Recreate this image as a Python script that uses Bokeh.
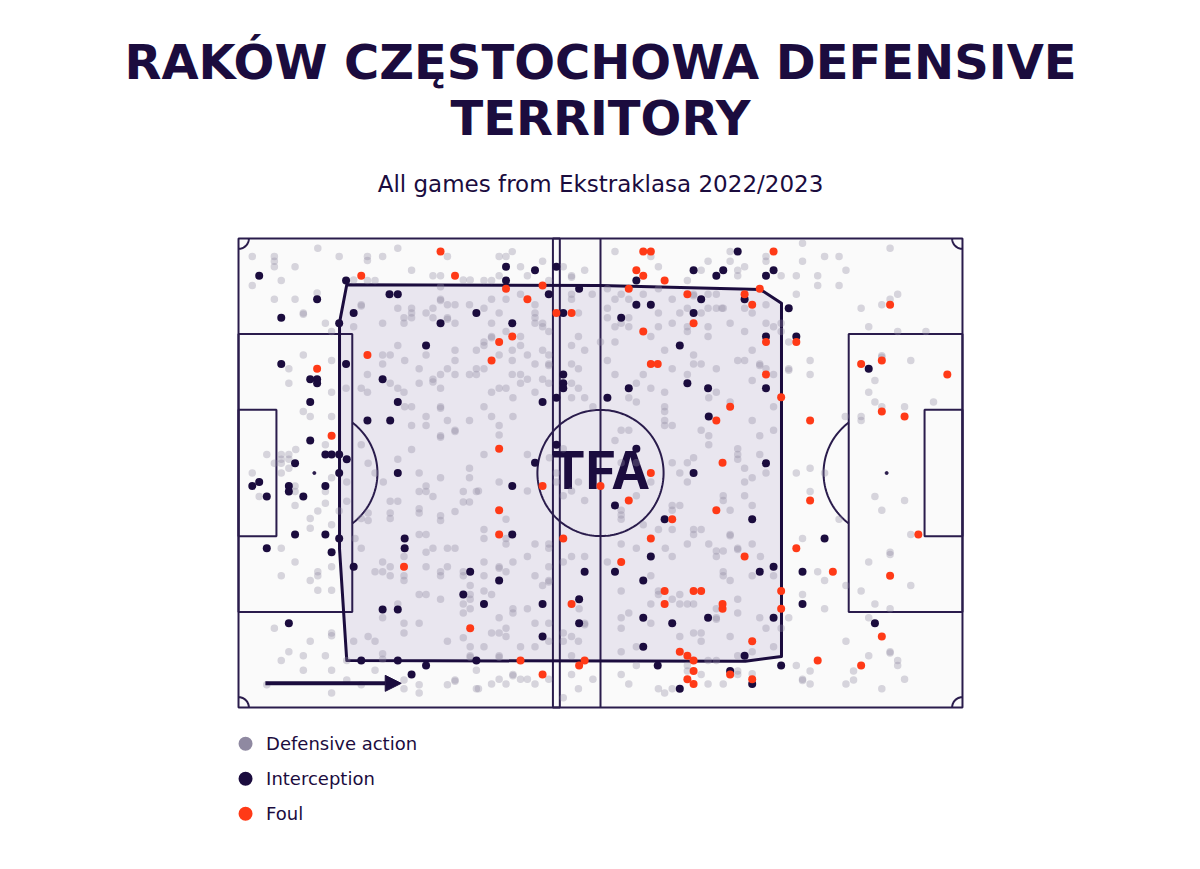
import numpy as np
from bokeh.plotting import figure
from bokeh.models import Range1d, Arrow, NormalHead
from bokeh.embed import file_html
from bokeh.resources import INLINE
from bokeh.core.properties import value

# ---------------- texts ----------------
title_lines = ["RAKÓW CZĘSTOCHOWA DEFENSIVE", "TERRITORY"]
subtitle = "All games from Ekstraklasa 2022/2023"
legend_labels = ["Defensive action", "Interception", "Foul"]

# ---------------- data (metres, pitch 105 x 68, y measured from top touchline) ----------------
defensive_actions = [
    (11.5,1.4),(23.1,1.4),(2.0,2.6),(5.2,2.6),(5.2,3.3),(5.2,4.1),(14.6,2.6),(18.7,2.6),(18.7,3.2),(20.9,2.6),
    (30.3,2.6),(8.2,4.1),(25.1,4.6),(6.2,6.1),(2.0,6.8),(28.2,5.4),(29.3,5.4),(16.7,6.0),(18.7,6.1),(19.8,6.1),
    (32.6,6.0),(33.6,6.0),(29.3,7.0),(29.3,8.8),(29.3,9.0),(30.3,9.6),(31.4,9.6),(33.5,9.6),(28.2,10.1),(5.2,8.8),
    (8.2,8.8),(11.4,7.9),(17.8,9.6),(17.8,9.8),(23.1,10.1),(25.1,10.1),(25.1,10.8),(25.1,11.5),(24.0,11.5),(9.4,10.8),
    (9.4,11.0),(27.2,10.8),(28.2,11.5),(30.3,11.5),(30.3,11.7),(31.4,12.3),(20.9,12.3),(24.0,12.3),(12.6,12.3),(16.7,12.8),
    (13.5,13.5),(23.1,15.5),(31.4,16.2),(34.5,16.2),(9.4,16.9),(20.9,16.9),(22.0,16.9),(13.5,17.7),(24.1,17.7),(27.2,16.9),
    (31.4,17.7),(7.3,18.9),(20.9,18.2),(26.2,18.9),(30.3,18.9),(29.3,19.7),(28.2,20.4),(28.2,20.8),(31.4,19.7),(33.5,19.7),
    (34.5,18.9),(34.5,19.7),(18.7,19.7),(7.3,21.0),(22.0,21.0),(17.8,21.7),(26.2,21.0),(29.3,21.7),(23.1,21.7),(13.5,22.3),
    (18.7,22.3),(15.6,21.7),(24.0,22.3),
    (39.7,1.9),(37.8,2.6),(38.8,2.6),(40.9,4.1),(44.1,3.3),(47.1,4.1),(50.2,4.6),(54.6,1.9),(59.8,2.6),(60.9,4.1),
    (68.1,3.3),(67.1,4.6),(65.1,6.1),(36.7,6.1),(35.6,6.1),(37.8,5.4),(41.9,5.4),(45.0,6.1),(48.3,5.4),(48.3,5.6),
    (48.3,8.1),(48.3,8.8),(51.3,8.1),(36.7,8.8),(38.8,8.8),(40.9,8.1),(43.0,9.6),(43.0,10.8),(43.0,11.5),(37.8,10.8),
    (35.6,10.1),(53.5,7.3),(53.5,10.1),(54.6,8.8),(55.5,8.1),(56.6,8.8),(58.7,8.1),(60.9,7.3),(62.9,8.8),(64.0,10.8),
    (65.1,10.1),(66.0,8.1),(66.0,8.3),(68.1,8.1),(69.3,8.1),(68.1,10.1),(69.3,10.1),(70.1,10.1),(67.1,10.8),(68.1,12.8),
    (65.1,12.8),(65.1,13.5),(60.9,10.8),(62.9,12.3),(60.9,12.8),(59.8,14.2),(55.5,12.3),(56.6,11.5),(56.6,12.8),(54.6,12.8),
    (53.5,11.5),(54.6,15.0),(52.5,15.0),(49.3,10.8),(49.3,14.2),(50.2,16.2),(48.3,15.5),(48.3,18.2),(49.3,18.9),(43.0,12.3),
    (44.1,12.3),(44.1,12.8),(45.0,13.5),(44.1,16.2),(45.0,16.9),(45.0,18.2),(45.0,18.4),(43.0,18.2),(41.9,16.9),(40.9,14.2),
    (40.9,15.5),(39.7,16.2),(38.8,13.5),(36.7,12.3),(36.7,14.2),(36.7,14.4),(35.6,15.0),(35.6,15.5),(37.8,16.9),(39.7,17.7),
    (35.6,18.9),(39.7,19.7),(40.9,19.7),(41.9,20.4),(40.9,21.0),(44.1,20.4),(45.0,21.0),(37.8,21.7),(38.8,21.7),(36.7,22.3),
    (43.0,22.3),(48.3,21.0),(49.3,21.7),(53.5,17.7),(54.6,19.7),(57.7,21.0),(58.7,19.7),(62.9,18.9),(65.1,19.7),(66.0,18.2),
    (67.1,18.2),(66.0,16.9),(69.3,18.9),(68.1,14.2),(61.8,16.2),(59.8,21.7),(61.8,22.3),(69.3,22.3),
    (81.8,0.7),(94.5,1.4),(71.3,1.9),(76.5,2.6),(76.5,3.3),(71.3,3.3),(81.8,3.3),(85.0,2.6),(87.1,2.6),(72.4,4.6),
    (72.4,5.4),(73.4,4.1),(78.7,5.4),(80.9,5.4),(84.0,5.4),(88.1,4.6),(84.0,6.8),(87.1,6.8),(80.9,8.1),(95.6,8.1),
    (94.5,8.8),(93.3,9.6),(90.3,10.1),(70.3,10.1),(73.4,10.1),(76.5,9.6),(74.5,10.8),(71.3,12.3),(76.5,12.3),(77.6,12.8),
    (78.7,12.3),(78.7,13.5),(73.4,13.5),(91.4,12.8),(95.6,13.5),(99.7,13.5),(79.8,15.0),(74.5,16.2),(72.4,17.7),(73.4,17.7),
    (75.6,18.2),(75.6,18.4),(76.5,18.9),(77.6,19.7),(79.8,18.9),(79.8,19.1),(82.9,17.7),(82.9,19.7),(74.5,20.6),(93.3,17.0),
    (93.3,17.2),(97.5,17.7),(92.3,20.6),(91.4,22.3),
    (9.4,25.1),(10.4,25.8),(13.5,25.8),(24.1,24.4),(25.1,24.4),(29.3,24.4),(29.3,24.6),(27.2,25.8),(27.2,27.1),(30.3,26.4),
    (33.5,26.4),(31.4,27.8),(31.4,28.0),(29.3,28.6),(29.3,28.8),(25.1,27.1),(17.8,29.9),(25.1,30.6),(12.6,29.9),(8.3,30.6),
    (4.1,31.3),(6.2,31.3),(6.2,32.0),(6.2,32.6),(7.3,31.3),(7.3,32.0),(5.2,32.6),(7.3,33.3),(6.2,34.0),(2.0,34.0),
    (18.8,32.6),(19.8,34.0),(21.0,35.3),(23.1,32.0),(26.2,34.0),(29.3,34.7),(33.5,33.3),(33.5,34.7),(27.2,35.9),(27.2,36.7),
    (28.2,37.4),(26.2,36.7),(32.6,36.7),(34.5,36.7),(32.6,38.2),(33.5,38.2),(31.4,39.6),(26.2,39.2),(26.2,39.8),(22.0,38.1),
    (23.1,38.1),(22.0,39.8),(22.0,40.6),(17.8,40.6),(18.8,39.8),(18.8,40.9),(16.9,43.5),(17.8,44.9),(15.7,35.3),(15.7,38.1),
    (14.6,39.5),(13.5,41.5),(11.5,39.5),(12.6,38.4),(10.4,40.6),(10.4,42.0),(6.2,44.9),(8.2,35.9),(8.2,36.7),(12.6,36.7),
    (13.5,34.7),(3.0,37.4),(8.2,38.7),(27.2,42.9),(26.2,42.9),(29.3,40.2),(29.3,40.9),(31.4,44.9),(30.3,44.9),(28.2,44.9),
    (27.2,45.5),
    (35.6,24.4),(36.7,25.8),(39.8,23.1),(39.8,25.8),(37.8,27.1),(37.8,28.5),(35.6,31.3),(41.9,31.3),(48.3,23.1),(50.2,23.1),
    (51.4,24.4),(56.6,23.1),(57.7,23.7),(61.8,24.4),(61.8,25.1),(61.8,26.4),(61.8,27.1),(62.9,27.1),(68.2,23.1),(67.1,27.8),
    (68.2,28.6),(68.2,29.9),(55.5,27.8),(56.6,27.8),(54.6,29.3),(62.9,32.5),(65.1,32.5),(66.0,31.8),(64.0,34.0),(65.1,35.3),
    (59.8,35.3),(57.7,32.5),(55.5,32.5),(47.1,30.5),(45.1,31.8),(47.1,37.3),(46.1,34.0),(46.1,35.3),(49.3,35.3),(48.3,36.6),
    (50.2,38.0),(41.9,36.6),(37.8,35.3),(34.8,36.6),(38.8,40.7),(35.6,42.2),(35.6,43.5),(38.8,43.5),(38.8,44.3),(43.0,44.3),
    (45.0,44.3),(45.0,44.9),(55.5,39.4),(55.5,40.1),(55.5,40.7),(57.7,37.3),(58.7,41.5),(60.9,42.2),(61.9,44.9),(62.9,38.7),
    (62.9,39.4),(64.0,38.7),(62.9,42.2),(66.0,42.2),(66.0,42.9),(67.1,42.2),(65.1,44.3),(68.2,44.3),(69.3,45.3),(55.5,44.3),
    (57.7,44.9),
    (71.3,23.7),(77.6,24.4),(74.5,26.4),(77.6,27.8),(75.6,28.6),(72.4,30.5),(72.4,31.3),(72.4,32.0),(75.6,31.3),(73.4,33.3),
    (74.5,34.7),(73.4,35.3),(76.5,34.0),(80.9,34.0),(82.9,33.3),(85.0,34.0),(82.9,36.7),(70.3,37.3),(70.3,38.0),(73.4,37.3),
    (74.5,38.7),(71.3,39.4),(71.3,42.9),(71.3,43.1),(72.4,44.9),(72.4,45.1),(74.5,44.3),(70.3,45.3),(81.8,43.5),(87.1,40.7),
    (88.0,25.8),(90.3,25.8),(90.3,26.4),(92.3,23.7),(93.3,24.4),(96.6,24.4),(100.8,23.7),(92.3,37.4),(96.6,38.0),(93.3,39.4),
    (97.5,42.9),(94.5,45.5),
    (8.2,46.9),(6.2,48.9),(10.4,49.6),(11.5,48.3),(11.5,48.9),(13.5,47.6),(11.5,51.0),(13.5,51.0),(20.9,46.9),(19.8,48.3),
    (20.9,48.3),(22.0,47.6),(22.0,48.9),(24.0,46.1),(24.0,48.9),(24.0,49.6),(27.2,47.6),(29.3,48.3),(29.3,48.9),(30.3,47.6),
    (32.6,48.3),(32.6,48.9),(33.6,50.3),(33.6,51.6),(33.6,52.3),(26.2,51.6),(27.2,51.6),(29.3,52.3),(32.6,53.0),(32.6,54.3),
    (33.6,53.7),(20.9,55.0),(23.1,53.0),(24.0,55.8),(24.0,57.2),(26.2,55.8),(32.6,57.9),(33.6,59.2),(33.6,60.5),(33.6,60.7),
    (30.3,58.4),(18.8,57.7),(19.8,58.4),(16.7,58.4),(20.9,60.2),(20.9,61.0),(5.2,56.5),(10.4,58.4),(13.5,57.2),(13.5,57.6),
    (7.3,59.9),(6.2,61.2),(9.4,60.5),(12.6,60.5),(9.4,62.6),(13.5,62.6),(15.7,61.2),(19.8,62.6),(15.7,64.0),(17.8,64.7),
    (24.0,64.0),(24.0,65.3),(26.2,64.7),(26.2,65.9),(30.3,64.7),(31.4,64.0),(31.4,64.2),(34.5,62.6),(34.5,65.3),(13.5,65.9),
    (4.1,64.7),
    (35.6,46.9),(37.8,47.6),(37.8,47.8),(39.8,46.9),(41.9,46.1),(38.8,48.3),(45.0,47.6),(43.0,48.9),(44.1,50.3),(45.0,49.6),
    (45.0,49.8),(35.6,48.9),(35.6,51.1),(36.7,51.6),(39.8,53.7),(39.8,54.3),(37.8,55.0),(41.9,53.7),(43.0,55.8),(45.0,55.8),
    (36.7,57.2),(37.8,57.2),(38.8,56.5),(38.8,57.7),(35.6,59.2),(37.8,60.5),(37.8,60.7),(40.9,59.2),(43.0,59.2),(45.0,58.4),
    (47.1,57.2),(47.1,58.4),(48.3,57.7),(50.2,55.8),(50.2,56.0),(49.4,53.7),(49.3,58.4),(48.3,60.5),(47.1,46.9),(48.3,46.1),
    (50.2,46.1),(53.5,46.9),(55.5,51.1),(56.6,54.3),(55.5,55.0),(55.5,56.5),(59.8,48.9),(59.8,53.0),(59.8,55.8),(60.9,51.1),
    (60.9,51.6),(62.9,52.3),(64.0,51.6),(64.0,53.0),(65.1,53.0),(66.0,53.0),(66.0,57.2),(67.1,57.2),(67.1,58.4),(64.0,57.7),
    (69.3,55.0),(69.3,55.2),(69.3,53.7),(62.9,46.1),(69.3,46.1),(55.5,59.9),(57.7,59.2),(68.1,61.2),(69.3,61.2),(57.7,61.9),
    (55.5,63.2),(56.6,64.6),(60.9,65.3),(61.8,65.9),(62.9,65.3),(65.1,61.9),(65.1,62.7),(67.1,63.2),(68.1,64.6),(39.8,63.2),
    (39.8,63.4),(37.8,63.9),(36.7,64.6),(40.9,63.9),(41.9,63.9),(38.8,64.6),(43.0,64.6),(45.0,63.9),(48.3,63.2),(51.4,63.9),
    (49.3,65.3),(47.1,66.6),(34.8,65.3),
    (75.7,46.1),(77.6,48.9),(74.5,48.9),(70.3,48.3),(70.3,48.9),(71.3,49.6),(84.0,48.3),(85.0,49.6),(88.1,50.3),(91.4,46.9),
    (94.5,45.8),(90.3,51.1),(97.5,50.3),(92.3,53.0),(94.5,53.7),(91.4,55.0),(81.8,51.6),(85.0,53.7),(79.8,55.0),(72.4,52.3),
    (72.4,54.3),(75.6,55.0),(76.5,56.5),(78.7,56.5),(71.3,57.7),(77.6,59.2),(74.5,59.9),(72.4,60.5),(88.1,58.4),(94.5,59.9),
    (94.5,60.1),(95.6,61.2),(95.6,61.9),(91.4,60.5),(89.2,62.7),(89.2,64.0),(88.1,64.6),(93.3,65.3),(96.6,63.9),(80.9,61.9),
    (82.9,62.7),(81.8,63.9),(81.8,64.1),(82.9,64.6),(72.4,62.7),(72.4,63.2),(74.5,63.1),(70.3,64.6),
]

interceptions = [
    (3.0,5.4),(15.6,6.1),(21.9,8.1),(23.1,8.1),(11.4,8.8),(6.2,11.5),(16.7,10.8),(34.5,10.8),(29.3,12.3),(14.6,12.3),
    (27.2,15.5),(6.2,18.2),(15.6,18.2),(10.4,20.4),(11.4,20.4),(11.4,21.0),(20.9,20.4),
    (38.8,4.1),(43.0,4.6),(46.1,4.1),(38.8,6.1),(49.4,7.3),(45.0,8.1),(47.1,10.8),(39.7,12.3),(57.7,6.1),(57.7,9.6),
    (59.8,9.6),(55.5,11.5),(66.0,4.6),(69.3,5.4),(67.1,8.8),(66.0,10.8),(64.0,15.5),(47.1,19.7),(47.1,21.0),(47.1,21.7),
    (65.1,21.0),(56.6,21.7),(68.1,21.7),
    (72.4,1.9),(70.3,4.6),(77.6,4.6),(76.5,5.4),(73.4,8.8),(79.8,10.1),(76.5,14.2),(80.9,14.2),(91.4,18.9),(76.5,21.7),
    (10.4,23.7),(23.1,23.7),(18.7,26.4),(22.0,26.4),(10.4,29.3),(12.6,31.3),(13.5,31.3),(14.6,31.3),(15.7,32.0),(8.2,32.6),
    (14.6,34.0),(23.1,34.0),(2.0,35.9),(3.0,35.3),(7.3,35.9),(7.3,36.7),(4.1,37.4),(9.4,37.4),(12.6,35.9),(8.2,42.9),
    (12.6,42.9),(14.6,43.5),(24.1,43.5),(24.1,44.9),(4.1,44.9),(13.5,45.5),
    (44.1,23.7),(46.1,23.1),(53.5,23.1),(68.2,25.8),(57.7,30.5),(43.0,32.5),(46.1,29.9),(66.0,34.0),(39.7,35.9),(54.6,38.7),
    (61.8,40.7),(39.7,42.9),
    (76.5,32.6),(74.5,40.7),(85.0,43.5),
    (16.7,47.6),(33.6,48.3),(32.6,51.6),(20.9,53.8),(23.1,53.8),(7.3,55.8),(17.8,61.2),(23.1,61.2),(27.2,61.9),(34.5,61.2),
    (25.1,63.2),
    (37.8,49.6),(35.6,53.0),(44.1,53.0),(44.1,57.7),(50.2,48.3),(49.4,52.3),(49.4,55.8),(54.6,48.3),(59.8,46.1),(58.7,49.6),
    (58.7,55.0),(62.9,55.8),(68.1,55.0),(58.7,59.2),(60.8,61.9),(64.0,65.3),
    (77.6,47.6),(75.6,48.3),(81.8,48.3),(81.8,53.0),(77.6,55.0),(73.4,60.5),(78.7,61.9),(71.3,62.7),(74.5,64.6),(92.3,55.8),
]

fouls = [
    (29.3,1.9),(17.8,5.4),(31.4,5.4),(18.7,16.9),(11.4,18.9),
    (58.7,1.9),(59.8,1.9),(57.7,4.6),(58.7,5.4),(61.8,6.1),(56.6,7.3),(38.8,7.3),(44.1,6.8),(41.9,8.8),(46.1,10.8),
    (48.3,10.8),(65.1,8.1),(66.0,12.3),(58.7,13.5),(39.7,14.2),(37.8,15.0),(36.7,17.7),(59.8,18.2),(60.8,18.2),
    (77.6,1.9),(75.6,7.3),(73.4,8.1),(74.5,9.6),(94.5,9.6),(76.5,15.0),(80.9,15.0),(90.3,18.2),(93.3,17.7),(102.8,19.7),
    (76.5,19.7),(78.7,23.0),
    (13.5,28.6),
    (69.3,26.4),(37.8,30.5),(59.8,34.0),(44.1,35.9),(52.5,35.9),(56.6,38.0),(37.8,39.4),(69.3,39.4),(62.9,40.7),(37.8,42.9),
    (47.1,43.5),(59.8,43.5),(70.2,32.5),
    (71.3,24.4),(82.9,26.4),(93.3,25.1),(96.6,25.8),(82.9,38.0),(98.6,42.9),(80.9,44.9),
    (24.0,47.6),(33.6,56.5),
    (55.5,46.9),(61.8,51.1),(66.0,51.1),(67.1,51.1),(61.8,53.0),(70.2,53.0),(70.2,53.7),(48.3,53.0),(40.9,61.2),(50.2,61.2),
    (49.4,61.9),(44.1,63.2),(64.0,59.9),(65.1,60.5),(66.0,61.2),(66.0,62.7),(65.1,63.9),(66.0,64.6),
    (73.4,46.1),(86.2,48.3),(94.5,48.9),(78.7,51.1),(78.7,53.7),(74.5,58.4),(84.0,61.2),(90.3,61.9),(93.3,57.7),(71.3,63.2),
    (74.5,63.9),
]

# defensive territory hull
territory_x = [15.7, 52.5, 75.7, 78.75, 78.75, 73.5, 15.7, 14.65, 14.65]
territory_y = [6.7, 6.8, 7.4, 9.4, 60.6, 61.3, 61.2, 45.0, 12.2]
# narrow band (two lines) across the pitch
band_x = [45.6, 46.6]
# direction-of-play arrow
arrow_x = [3.9, 23.6]
arrow_y = 64.5

# ---------------- style ----------------
NAVY = "#1b0c3e"
LINE = "#2a1c4c"
GRAY = "#8f89a1"
RED = "#ff3a17"
TERR_FILL = "#e9e6ef"
PITCH_BG = "#fafafa"
TITLE_FONT = "DejaVu Sans"
FONT = "DejaVu Sans"

L, W = 105.0, 68.0

p = figure(width=1184, height=853,
           x_range=Range1d(-34.52, 137.20), y_range=Range1d(89.17, -34.51),
           x_axis_type=None, y_axis_type=None,
           output_backend="svg", toolbar_location=None, min_border=0)
p.outline_line_color = None
p.background_fill_color = "white"
p.border_fill_color = "white"

# pitch background
p.quad(left=[0], right=[L], top=[0], bottom=[W], fill_color=PITCH_BG, line_color=None)
# territory fill
p.patch(territory_x, territory_y, fill_color=TERR_FILL, line_color=None)

lw = 2
# pitch outline & lines
p.quad(left=[0], right=[L], top=[0], bottom=[W], fill_color=None, line_color=LINE, line_width=lw)
p.segment(x0=[L / 2], y0=[0], x1=[L / 2], y1=[W], line_color=LINE, line_width=lw)
t = np.linspace(0, 2 * np.pi, 200)
p.line(L / 2 + 9.15 * np.cos(t), W / 2 + 9.15 * np.sin(t), line_color=LINE, line_width=lw)
# boxes
pb_top, pb_bot = W / 2 - 20.16, W / 2 + 20.16
sb_top, sb_bot = W / 2 - 9.16, W / 2 + 9.16
p.quad(left=[0, L - 16.5, 0, L - 5.5], right=[16.5, L, 5.5, L],
       top=[pb_top, pb_top, sb_top, sb_top], bottom=[pb_bot, pb_bot, sb_bot, sb_bot],
       fill_color=None, line_color=LINE, line_width=lw)
# penalty arcs
a = np.arccos(5.5 / 9.15)
ta = np.linspace(-a, a, 60)
p.line(11 + 9.15 * np.cos(ta), W / 2 + 9.15 * np.sin(ta), line_color=LINE, line_width=lw)
p.line(L - 11 - 9.15 * np.cos(ta), W / 2 + 9.15 * np.sin(ta), line_color=LINE, line_width=lw)
p.scatter([11, L - 11], [W / 2, W / 2], size=3, color=LINE)
# corner arcs
tc = np.linspace(0, np.pi / 2, 20)
r = 1.5
for cx, cy, sx, sy in [(0, 0, 1, 1), (L, 0, -1, 1), (0, W, 1, -1), (L, W, -1, -1)]:
    p.line(cx + sx * r * np.cos(tc), cy + sy * r * np.sin(tc), line_color=LINE, line_width=lw)

# band
p.quad(left=[band_x[0]], right=[band_x[1]], top=[0], bottom=[W], fill_color=None,
       line_color=LINE, line_width=lw)

# territory outline
p.patch(territory_x, territory_y, fill_color=None, line_color=NAVY, line_width=3, line_join="round")

# TFA logo
p.text(x=[L / 2], y=[33.6], text=["TFA"], text_font=value("Inter"), text_font_style="bold",
       text_font_size="52px", text_align="center", text_baseline="alphabetic", text_color=NAVY)

# events
p.scatter([d[0] for d in defensive_actions], [d[1] for d in defensive_actions], size=7.5,
          fill_color=GRAY, fill_alpha=0.34, line_color=None)
p.scatter([d[0] for d in interceptions], [d[1] for d in interceptions], size=8,
          fill_color=NAVY, line_color=None)
p.scatter([d[0] for d in fouls], [d[1] for d in fouls], size=8,
          fill_color=RED, line_color=None)

# arrow
p.add_layout(Arrow(end=NormalHead(size=16, fill_color=NAVY, line_color=NAVY),
                   x_start=arrow_x[0], y_start=arrow_y, x_end=arrow_x[1], y_end=arrow_y,
                   line_color=NAVY, line_width=4))

# titles
p.text(x=[L / 2, L / 2], y=[-25.6, -17.45], text=title_lines, text_font=value(TITLE_FONT),
       text_font_style="bold", text_font_size="48px", text_align="center",
       text_baseline="alphabetic", text_color=NAVY)
p.text(x=[L / 2], y=[-7.9], text=[subtitle], text_font=value(FONT), text_font_size="23px",
       text_align="center", text_baseline="alphabetic", text_color=NAVY)

# legend
leg_y = [73.26, 78.34, 83.41]
p.scatter([1.02, 1.02, 1.02], leg_y, size=14, fill_color=[GRAY, NAVY, RED], line_color=None)
p.text(x=[4.0] * 3, y=leg_y, text=legend_labels, text_font=value(FONT), text_font_size="18px",
       text_align="left", text_baseline="middle", text_color=NAVY)

open("out.html", "w").write(file_html(p, INLINE))
